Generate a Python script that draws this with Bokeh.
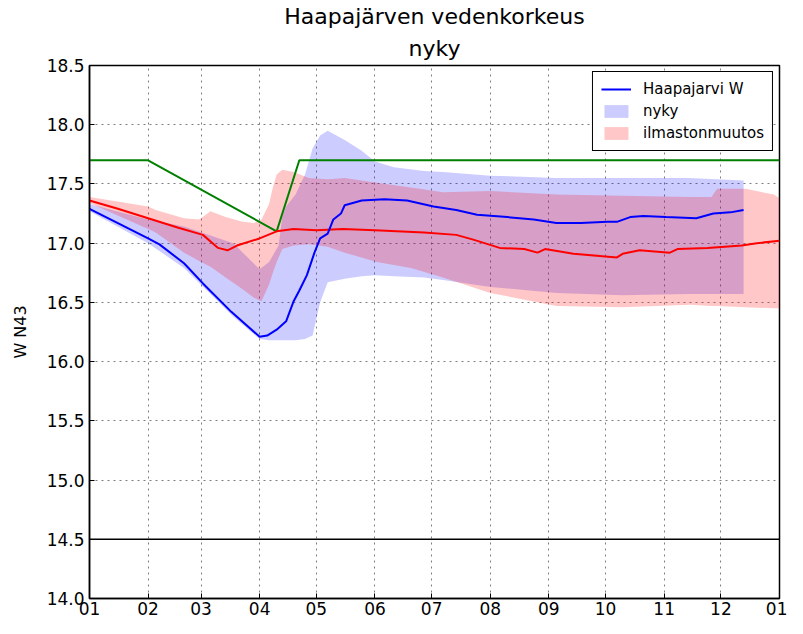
from bokeh.plotting import figure
from bokeh.models import (FixedTicker, Span, Legend, LegendItem, Title, Range1d,
                          PrintfTickFormatter)
from bokeh.embed import file_html
from bokeh.resources import INLINE

FONT = "DejaVu Sans"

# ---- tick labels ----
month_ticks = [0, 31, 59, 90, 120, 151, 181, 212, 243, 273, 304, 334, 365]
month_labels = ["01", "02", "03", "04", "05", "06", "07", "08", "09", "10", "11", "12", "01"]
y_ticks = [14.0, 14.5, 15.0, 15.5, 16.0, 16.5, 17.0, 17.5, 18.0, 18.5]

# ---- Haapajarvi W (blue line), day of year ----
w_days = [0, 15, 31, 37, 50, 60, 75, 90, 94, 99, 104, 108, 111, 115, 119, 122, 126, 129,
          133, 135, 144, 156, 168, 182, 194, 205, 221, 235, 247, 260, 274, 279, 286, 293,
          305, 321, 330, 339, 346]
w_vals = [17.29, 17.17, 17.04, 16.99, 16.83, 16.66, 16.42, 16.21, 16.22, 16.27, 16.34, 16.51,
          16.60, 16.73, 16.92, 17.04, 17.08, 17.20, 17.25, 17.32, 17.36, 17.37, 17.36, 17.31,
          17.28, 17.24, 17.22, 17.20, 17.17, 17.17, 17.18, 17.18, 17.22, 17.23, 17.22, 17.21,
          17.25, 17.26, 17.28]

# ---- ilmastonmuutos median (red line) ----
r_days = [0, 15, 31, 47, 60, 68, 73, 78, 90, 99, 108, 120, 134, 151, 177, 194, 203, 217,
          230, 237, 241, 256, 279, 282, 291, 307, 311, 327, 345, 353, 365]
r_vals = [17.36, 17.29, 17.21, 17.13, 17.07, 16.96, 16.94, 16.98, 17.04, 17.10, 17.12, 17.11,
          17.12, 17.11, 17.09, 17.07, 17.03, 16.96, 16.95, 16.92, 16.95, 16.91, 16.88, 16.91,
          16.94, 16.92, 16.95, 16.96, 16.98, 17.00, 17.02]

# ---- green regulation line ----
g_days = [0, 31, 99, 111, 365]
g_vals = [17.7, 17.7, 17.1, 17.7, 17.7]

# ---- nyky band (blue) ----
n_days = [0, 31, 50, 76, 90, 95, 100, 102, 104, 109, 114, 118, 122, 126, 135, 144, 151, 161,
          177, 187, 212, 247, 282, 317, 346]
n_upper = [17.33, 17.20, 17.14, 17.00, 16.78, 16.84, 16.98, 17.22, 17.31, 17.41, 17.58, 17.80,
           17.91, 17.95, 17.87, 17.78, 17.69, 17.64, 17.61, 17.60, 17.57, 17.55, 17.55, 17.55,
           17.53]
n_lower = [17.27, 17.00, 16.79, 16.38, 16.19, 16.18, 16.18, 16.18, 16.18, 16.18, 16.19, 16.22,
           16.50, 16.67, 16.70, 16.72, 16.73, 16.72, 16.71, 16.69, 16.63, 16.58, 16.56, 16.57,
           16.57]

# ---- ilmastonmuutos band (red) ----
c_days = [0, 31, 35, 50, 58, 64, 72, 81, 87, 91, 95, 97, 99, 102, 108, 116, 126, 135, 152,
          170, 187, 212, 247, 282, 318, 329, 332, 347, 362, 365]
c_upper = [17.39, 17.31, 17.28, 17.21, 17.20, 17.27, 17.22, 17.18, 17.17, 17.20, 17.33, 17.47,
           17.58, 17.62, 17.60, 17.55, 17.54, 17.55, 17.51, 17.47, 17.43, 17.44, 17.41, 17.40,
           17.39, 17.39, 17.46, 17.46, 17.41, 17.38]
c_lower = [17.34, 17.12, 17.09, 16.92, 16.85, 16.80, 16.71, 16.61, 16.54, 16.51, 16.65, 16.75,
           16.84, 16.95, 16.98, 16.99, 16.97, 16.92, 16.84, 16.79, 16.71, 16.58, 16.47, 16.46,
           16.48, 16.47, 16.47, 16.46, 16.45, 16.45]

ref_level = 14.5

p = figure(width=787, height=618, output_backend="svg", toolbar_location=None,
           x_range=Range1d(0, 365), y_range=Range1d(14.0, 18.5),
           title_location=None,
           min_border_left=89, min_border_right=8, min_border_top=65, min_border_bottom=20)

p.add_layout(Title(text="nyky", align="center", text_font=FONT, text_font_size="22px",
                   text_font_style="normal", text_color="black", standoff=10), "above")
p.add_layout(Title(text="Haapajärven vedenkorkeus", align="center", text_font=FONT,
                   text_font_size="22px", text_font_style="normal", text_color="black",
                   standoff=0), "above")

r_nb = p.varea(x=n_days, y1=n_lower, y2=n_upper, fill_color="#0000ff", fill_alpha=0.2)
r_cb = p.varea(x=c_days, y1=c_lower, y2=c_upper, fill_color="#ff0000", fill_alpha=0.22)
p.line(g_days, g_vals, line_color="#008000", line_width=2)
p.line(r_days, r_vals, line_color="#ff0000", line_width=2)
r_w = p.line(w_days, w_vals, line_color="#0000ff", line_width=2)

p.add_layout(Span(location=ref_level, dimension="width", line_color="black", line_width=1.5))

# axes
p.xaxis.ticker = FixedTicker(ticks=month_ticks)
p.xaxis.major_label_overrides = {t: l for t, l in zip(month_ticks, month_labels)}
p.yaxis.ticker = FixedTicker(ticks=y_ticks)
p.yaxis.formatter = PrintfTickFormatter(format="%.1f")
for ax in (p.xaxis[0], p.yaxis[0]):
    ax.major_tick_in = 5
    ax.major_tick_out = 0
    ax.minor_tick_line_color = None
    ax.axis_line_color = "black"
    ax.axis_line_width = 1.5
    ax.major_tick_line_color = "black"
    ax.major_label_text_font = FONT
    ax.major_label_text_font_size = "17px"
    ax.major_label_text_color = "black"
p.xaxis.major_label_standoff = 3
p.yaxis.major_label_standoff = 5
p.yaxis.axis_label = "W N43"
p.yaxis.axis_label_text_font = FONT
p.yaxis.axis_label_text_font_size = "16px"
p.yaxis.axis_label_text_font_style = "normal"
p.yaxis.axis_label_text_color = "black"
p.yaxis.axis_label_standoff = 14

p.xgrid.ticker = FixedTicker(ticks=month_ticks)
p.ygrid.ticker = FixedTicker(ticks=y_ticks)
for g in (p.xgrid[0], p.ygrid[0]):
    g.grid_line_color = "black"
    g.grid_line_alpha = 0.5
    g.grid_line_dash = "2 4"
    g.grid_line_width = 1

p.outline_line_color = "black"
p.outline_line_width = 1.5
p.outline_line_alpha = 1.0
p.background_fill_color = "white"
p.border_fill_color = "white"

legend = Legend(items=[LegendItem(label="Haapajarvi W", renderers=[r_w]),
                       LegendItem(label="nyky", renderers=[r_nb]),
                       LegendItem(label="ilmastonmuutos", renderers=[r_cb])],
                location="top_right")
legend.label_text_font = FONT
legend.label_text_font_size = "15px"
legend.label_text_color = "black"
legend.border_line_color = "black"
legend.border_line_width = 1.5
legend.border_line_alpha = 1.0
legend.background_fill_alpha = 1.0
legend.glyph_width = 30
legend.glyph_height = 16
legend.spacing = 4
legend.padding = 8
legend.margin = 6
legend.label_standoff = 12
p.add_layout(legend)

open("out.html", "w").write(file_html(p, INLINE))
